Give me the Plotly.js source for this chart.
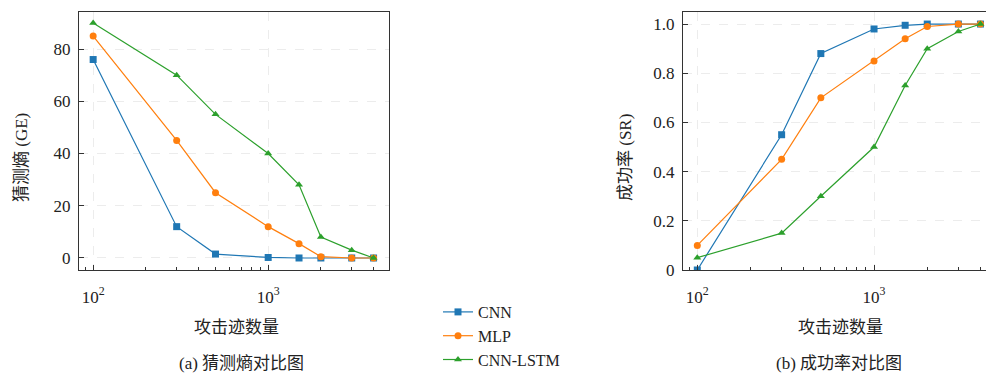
<!DOCTYPE html>
<html>
<head>
<meta charset="utf-8">
<script src="https://cdn.plot.ly/plotly-3.0.1.min.js"></script>
<style>html,body{margin:0;padding:0;background:#fff;}#chart{width:986px;height:374px;}</style>
</head>
<body>
<div id="chart"></div>
<script>
const traces_x = [100, 300, 500, 1000, 1500, 2000, 3000, 4000];
const seriesNames = ['CNN', 'MLP', 'CNN-LSTM'];
const geCNN = [76, 12, 1.5, 0.2, 0, 0, 0, 0];
const geMLP = [85, 45, 25, 12, 5.5, 0.5, 0, 0];
const geLSTM = [90, 70, 55, 40, 28, 8, 3, 0];
const srCNN = [0, 0.55, 0.88, 0.98, 0.995, 1, 1, 1];
const srMLP = [0.1, 0.45, 0.70, 0.85, 0.94, 0.99, 1, 1];
const srLSTM = [0.05, 0.15, 0.30, 0.50, 0.75, 0.90, 0.97, 1];
const xTickVals = [100, 1000];
const xTickText = ['10<sup>2</sup>', '10<sup>3</sup>'];
const geTicks = [0, 20, 40, 60, 80];
const srTicks = [0, 0.2, 0.4, 0.6, 0.8, 1.0];
const srTickText = ['0', '0.2', '0.4', '0.6', '0.8', '1.0'];
const minorVals = [90, 200, 300, 400, 500, 600, 700, 800, 900, 2000, 3000, 4000];

const colors = ['#1f77b4', '#ff7f0e', '#2ca02c'];
const symbols = ['square', 'circle', 'triangle-up'];
const serif = '"Liberation Serif", "DejaVu Serif", "Noto Sans CJK SC", serif';

function mk(y, i, xa, ya, show) {
  return {
    x: traces_x, y: y, xaxis: xa, yaxis: ya, type: 'scatter', mode: 'lines+markers',
    name: seriesNames[i], showlegend: show, legendgroup: seriesNames[i],
    line: {color: colors[i], width: 1.2},
    marker: {color: colors[i], symbol: symbols[i], size: 7}
  };
}
const data = [
  mk(geCNN, 0, 'x', 'y', true), mk(geMLP, 1, 'x', 'y', true), mk(geLSTM, 2, 'x', 'y', true),
  mk(srCNN, 0, 'x2', 'y2', false), mk(srMLP, 1, 'x2', 'y2', false), mk(srLSTM, 2, 'x2', 'y2', false)
];

const axisCommon = {
  showline: true, linecolor: '#333', linewidth: 1.2, mirror: true,
  ticks: 'inside', ticklen: 5, tickcolor: '#333', tickwidth: 1,
  showgrid: true, gridcolor: '#ececec', griddash: 'dash', gridwidth: 1,
  zeroline: false, automargin: false, tickfont: {family: serif, size: 17, color: '#222'}
};
const xCommon = Object.assign({}, axisCommon, {
  type: 'log', tickmode: 'array', tickvals: xTickVals, ticktext: xTickText,
  ticklabelstandoff: 11,
  minor: {tickmode: 'array', tickvals: minorVals, ticks: 'inside', ticklen: 3, tickcolor: '#333', showgrid: false}
});
const yDom = [1 - 270/374, 1 - 12/374];
const txtFont = {family: serif, size: 17, color: '#222'};
function ann(text, px, py, angle) {
  return {text: text, x: px/986, y: 1 - py/374, xref: 'paper', yref: 'paper', xanchor: 'center', yanchor: 'middle',
    textangle: angle || 0, showarrow: false, font: txtFont};
}

const layout = {
  width: 986, height: 374,
  margin: {l: 0, r: 0, t: 0, b: 0, autoexpand: false},
  paper_bgcolor: '#fff', plot_bgcolor: '#fff',
  showlegend: true,
  legend: {x: 438/986, y: -3/374, xanchor: 'left', yanchor: 'bottom',
    font: {family: serif, size: 16, color: '#222'}, tracegroupgap: 0, bgcolor: 'rgba(0,0,0,0)'},
  xaxis: Object.assign({}, xCommon, {domain: [79/986, 389/986], range: [Math.log10(83), Math.log10(4900)], anchor: 'y'}),
  yaxis: Object.assign({}, axisCommon, {domain: yDom, range: [-4.6, 94.2], tickvals: geTicks, anchor: 'x', ticklabelstandoff: 4}),
  xaxis2: Object.assign({}, xCommon, {domain: [683/986, 1], range: [Math.log10(83), Math.log10(4300)], anchor: 'y2'}),
  yaxis2: Object.assign({}, axisCommon, {domain: yDom, range: [0, 1.049], tickmode: 'array', tickvals: srTicks, ticktext: srTickText, anchor: 'x2', ticklabelstandoff: 4}),
  annotations: [
    ann('猜测熵 (GE)', 21, 158, -90),
    ann('成功率 (SR)', 625, 158, -90),
    ann('攻击迹数量', 236, 327),
    ann('攻击迹数量', 840, 327),
    ann('(a) 猜测熵对比图', 241, 363),
    ann('(b) 成功率对比图', 839, 363)
  ]
};
Plotly.newPlot('chart', data, layout, {displayModeBar: false, staticPlot: true});
</script>
</body>
</html>
